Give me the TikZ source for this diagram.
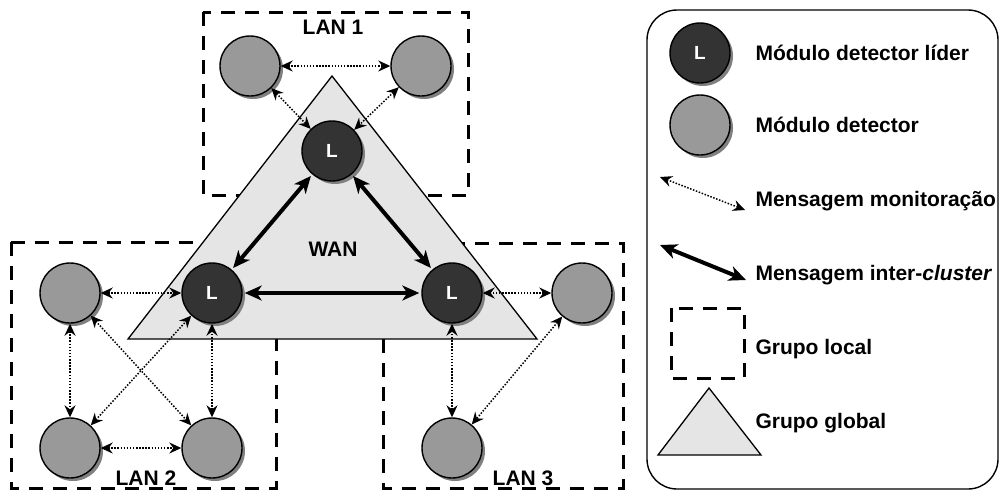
\documentclass[tikz,border=0pt]{standalone}
\usepackage{fontspec}
\setmainfont{Liberation Sans}
\usetikzlibrary{arrows.meta,shadows,positioning}

\begin{document}
\begin{tikzpicture}[x=1pt,y=-1pt,node distance=155pt,
    font=\bfseries\fontsize{21}{25}\selectfont,
    base node/.style={circle,draw,line width=1.4pt,minimum size=60pt,inner sep=0pt,
      drop shadow={shadow xshift=3pt,shadow yshift=-3pt,fill=black!50,opacity=1}},
    leader node/.style={base node,fill=black!80,text=white,font=\bfseries\fontsize{19}{22}\selectfont},
    detector node/.style={base node,fill=black!40},
    monitor/.style={<->,>={Stealth[length=12pt,width=11pt,inset=4pt]},line width=1.5pt,
      dash pattern=on 1.5pt off 1.6pt},
    inter/.style={<->,>={Stealth[length=17pt,width=15pt,inset=5pt]},line width=4pt},
    lan box/.style={draw,line width=3pt,dash pattern=on 14pt off 10pt},
    wan/.style={draw,fill=black!10,line width=1.3pt},
    key text/.style={anchor=base west}]

\useasboundingbox (0,0) rectangle (1000,491);

% grupos locais
\draw[lan box] (203,12) rectangle (468,195);
\draw[lan box] (11,242) rectangle (276,488);
\draw[lan box] (383,243) rectangle (623,488);

% grupo global
\draw[wan] (128,339) -- (332,76) -- (537,339) -- cycle;

\node[leader node] (L1) at (332,151) {L};
\node[leader node] (L2) at (212,293) {L};
\node[leader node] (L3) at (452,293) {L};

\node[detector node] (1a) at (250,66) {};
\node[detector node] (1b) [right of=1a, node distance=171pt] {};
\node[detector node] (2a) [left of=L2, node distance=142pt] {};
\node[detector node] (2b) [below of=2a] {};
\node[detector node] (2c) [below of=L2] {};
\node[detector node] (3a) [right of=L3, node distance=130pt] {};
\node[detector node] (3b) [below of=L3] {};

\node (lan1) at (333,27) {LAN 1};
\node (lan2) at (146,478) {LAN 2};
\node (lan3) at (523,478) {LAN 3};
\node (wan) at (333,249) {WAN};

\path[monitor]
(1a) edge (1b)
(1a) edge (L1)
(1b) edge (L1)
(2a) edge (L2)
(2a) edge (2b)
(2a) edge (2c)
(2b) edge (L2)
(2b) edge (2c)
(2c) edge (L2)
(3a) edge (L3)
(3b) edge (L3)
(3a) edge (3b)
;

\path[inter,shorten <=2pt,shorten >=2pt]
(L1) edge (L2)
(L1) edge (L3)
(L2) edge (L3)
;

% legenda
\draw[line width=1.4pt,rounded corners=30pt] (647,10) rectangle (998,489);
\node[leader node] (kL) at (700,53) {L};
\node[detector node] (kD) at (700,125) {};
\coordinate (km1) at (660,177);
\coordinate (km2) at (745,210);
\coordinate (ki1) at (660,245);
\coordinate (ki2) at (746,280);
\path[monitor] (km1) edge (km2);
\path[inter] (ki1) edge (ki2);
\draw[lan box] (671,308) rectangle (744,378);
\draw[wan] (658,455) -- (709,388) -- (761,455) -- cycle;

\node[key text] (t1) at (752,60) {Módulo detector líder};
\node[key text] (t2) at (752,132) {Módulo detector};
\node[key text] (t3) at (752,206) {Mensagem monitoração};
\node[key text] (t4) at (752,280) {Mensagem inter-\textit{cluster}};
\node[key text] (t5) at (752,354) {Grupo local};
\node[key text] (t6) at (752,428) {Grupo global};

\end{tikzpicture}
\end{document}
